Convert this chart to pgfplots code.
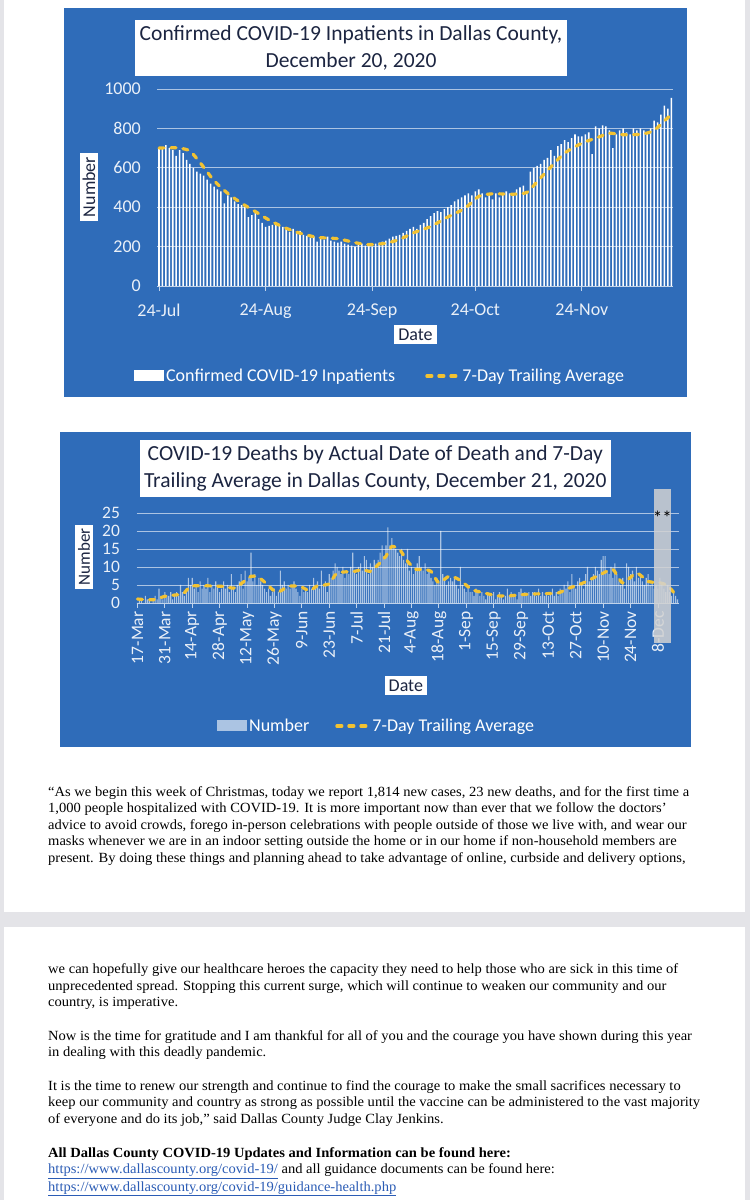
\documentclass[border=0pt]{standalone}
\usepackage{graphicx}
\usepackage{pgfplots}
\pgfplotsset{compat=1.18}
\usepackage{fontspec}
\setmainfont{Carlito}
\newfontfamily\bodyfont{Liberation Serif}

\definecolor{chartblue}{HTML}{2F6CB9}
\definecolor{avgyellow}{HTML}{F2C232}
\definecolor{titleink}{HTML}{1C2541}
\definecolor{ticklab}{HTML}{EAF0F8}
\definecolor{linkblue}{HTML}{2B5CB5}
\definecolor{pagegray}{HTML}{E4E4E8}

\newlength\lineone
\newcommand\bodysize{\fontsize{14}{16.6}\selectfont}

\pgfplotsset{
  covid/.style={
    scale only axis,
    axis x line*=bottom,
    axis y line*=left,
    y axis line style={draw=none},
    x axis line style={draw=white!70!chartblue, line width=0.8pt},
    ymajorgrids,
    grid style={draw=white!60!chartblue, line width=0.9pt},
    ytick style={draw=none},
    xtick style={draw=white!70!chartblue, line width=0.8pt},
    tick align=outside,
    major tick length=5pt,
    tick label style={font=\fontsize{18}{20}\selectfont, text=ticklab},
    yticklabel style={xshift=-8pt},
    /pgf/number format/assume math mode=true,
    /pgf/number format/1000 sep={},
    title style={fill=white, text=titleink, font=\fontsize{21.5}{27}\selectfont,
      align=center, anchor=center, yshift=-8pt, inner xsep=5pt, inner ysep=2pt},
    ylabel style={fill=white, text=titleink, font=\fontsize{18}{20}\selectfont,
      anchor=center, inner xsep=4pt, inner ysep=3pt},
    xlabel style={fill=white, text=titleink, font=\fontsize{18}{20}\selectfont,
      anchor=center, inner xsep=4pt, inner ysep=4pt},
    legend style={draw=none, fill=none, text=white, font=\fontsize{18}{20}\selectfont,
      legend columns=2, anchor=center,
      /tikz/every even column/.append style={column sep=28pt}},
    clip=false,
  },
  avgline/.style={avgyellow, line width=3.2pt, line cap=round,
    dash pattern=on 5pt off 7pt, smooth, tension=0.4,
    legend image code/.code={\draw[avgyellow, line width=3.2pt, line cap=round,
      dash pattern=on 5pt off 7pt] (0pt,0pt) -- (32pt,0pt);}},
  barlegend/.style={legend image code/.code={\fill[white] (0pt,-5pt) rectangle (30pt,6pt);}},
}

\begin{document}%
\settowidth\lineone{\bodyfont\bodysize “As we begin this week of Christmas, today we report 1,814 new cases, 23 new deaths, and for the first time a}%
\pgfmathsetmacro\sx{641/\lineone}%
\begin{tikzpicture}[x=1pt,y=1pt]
\path[use as bounding box] (0,0) rectangle (750,1200);
\fill[pagegray] (0,0) rectangle (750,1200);
\fill[white] (4,288) rectangle (745,1200);
\fill[white] (4,0) rectangle (745,273);

% top chart
\fill[chartblue] (64,803) rectangle (687,1192);
\begin{axis}[covid,
    at={(157.3pt,914pt)}, anchor=south west,
    width=515.7pt, height=197pt,
    xmin=-0.5, xmax=149.5, ymin=0, ymax=1000,
    ytick={0,200,...,1000},
    xtick={0,31,62,92,123},
    xticklabels={24-Jul,24-Aug,24-Sep,24-Oct,24-Nov},
    xticklabel style={yshift=-9pt},
    title={Confirmed COVID-19 Inpatients in Dallas County,\\December 20, 2020},
    title style={at={(axis description cs:0.3756,1.218)}, minimum height=56pt},
    ylabel={Number},
    ylabel style={at={(axis description cs:-0.1324,0.5025)}, minimum width=68pt},
    xlabel={Date},
    xlabel style={at={(axis description cs:0.5007,-0.246)}},
    legend style={at={(axis description cs:0.432,-0.457)}},
]
\addplot[ybar, bar width=0.45, bar shift=0pt, fill=white, draw=none, barlegend]
  table[row sep=\\, x expr=\coordindex, y index=0] {v\\
  700\\ 705\\ 715\\ 700\\ 690\\ 660\\ 690\\ 675\\ 640\\ 620\\
  600\\ 580\\ 570\\ 560\\ 540\\ 520\\ 505\\ 490\\ 480\\ 420\\
  460\\ 450\\ 430\\ 415\\ 410\\ 400\\ 350\\ 360\\ 375\\ 340\\
  320\\ 300\\ 305\\ 310\\ 320\\ 305\\ 300\\ 290\\ 275\\ 290\\
  270\\ 280\\ 260\\ 255\\ 245\\ 250\\ 225\\ 240\\ 235\\ 250\\
  230\\ 225\\ 220\\ 225\\ 215\\ 210\\ 205\\ 200\\ 210\\ 215\\
  205\\ 210\\ 200\\ 215\\ 220\\ 225\\ 230\\ 240\\ 250\\ 255\\
  260\\ 270\\ 280\\ 290\\ 300\\ 290\\ 310\\ 320\\ 340\\ 355\\
  370\\ 380\\ 375\\ 390\\ 400\\ 410\\ 430\\ 440\\ 450\\ 460\\
  470\\ 460\\ 480\\ 490\\ 470\\ 450\\ 460\\ 440\\ 470\\ 450\\
  470\\ 480\\ 470\\ 460\\ 490\\ 500\\ 510\\ 480\\ 580\\ 600\\
  610\\ 620\\ 640\\ 650\\ 690\\ 660\\ 710\\ 720\\ 740\\ 730\\
  750\\ 770\\ 760\\ 760\\ 770\\ 780\\ 670\\ 810\\ 800\\ 815\\
  810\\ 790\\ 700\\ 770\\ 790\\ 800\\ 780\\ 770\\ 800\\ 790\\
  800\\ 790\\ 780\\ 800\\ 840\\ 830\\ 870\\ 915\\ 900\\ 955\\
  };
\addlegendentry{Confirmed COVID-19 Inpatients}
\addplot[avgline] coordinates {
  (0,700) (3,702) (6,700) (9,685) (12,625) (16,535) (20,470) (24,420)
  (28,378) (32,335) (36,300) (41,268) (46,247) (52,240) (57,220) (61,210)
  (66,217) (70,237) (74,270) (79,302) (84,350) (89,395) (93,455) (97,468)
  (103,466) (107,475) (110,530) (114,605) (118,675) (123,725) (127,750)
  (131,775) (135,768) (140,770) (144,790) (149,872)
};
\addlegendentry{7-Day Trailing Average}
\end{axis}

% deaths chart
\fill[chartblue] (60,453) rectangle (691,768);
\begin{axis}[covid,
    at={(136.5pt,597pt)}, anchor=south west,
    width=542pt, height=90pt,
    xmin=-0.5, xmax=276.5, ymin=0, ymax=25,
    ytick={0,5,...,25},
    xtick={0,14,...,266},
    xticklabels={17-Mar,31-Mar,14-Apr,28-Apr,12-May,26-May,9-Jun,23-Jun,7-Jul,21-Jul,
      4-Aug,18-Aug,1-Sep,15-Sep,29-Sep,13-Oct,27-Oct,10-Nov,24-Nov,8-Dec},
    xticklabel style={rotate=90, anchor=east, font=\fontsize{17.5}{19}\selectfont},
    yticklabel style={font=\fontsize{17.5}{19}\selectfont},
    title={COVID-19 Deaths by Actual Date of Death and 7-Day\\Trailing Average in Dallas County, December 21, 2020},
    title style={at={(axis description cs:0.4406,1.517)}, minimum height=57pt, inner xsep=4pt},
    ylabel={Number},
    ylabel style={at={(axis description cs:-0.0969,0.511)}, font=\fontsize{17}{19}\selectfont,
      minimum width=64pt},
    xlabel={Date},
    xlabel style={at={(axis description cs:0.497,-0.917)}},
    legend style={at={(axis description cs:0.443,-1.367)},
      /tikz/every even column/.append style={column sep=24pt}},
]
\addplot[ybar, bar width=0.55, bar shift=0pt, fill=white, fill opacity=0.6, draw=none, barlegend]
  table[row sep=\\, x expr=\coordindex, y index=0] {v\\
  0\\ 1\\ 1\\ 0\\ 2\\ 1\\ 1\\ 0\\ 1\\
  2\\ 1\\ 4\\ 2\\ 1\\ 3\\ 2\\ 2\\ 3\\ 1\\ 2\\ 3\\
  2\\ 5\\ 3\\ 2\\ 4\\ 7\\ 5\\
  7\\ 4\\ 5\\ 3\\ 6\\ 4\\ 5\\ 4\\ 7\\ 3\\ 5\\ 4\\ 6\\ 5\\ 3\\ 4\\ 6\\ 4\\ 5\\ 3\\ 8\\ 4\\ 3\\
  5\\ 6\\ 8\\ 4\\ 9\\ 6\\ 7\\ 14\\ 6\\ 8\\ 5\\ 7\\ 6\\ 5\\ 4\\
  3\\ 4\\ 2\\ 3\\ 4\\ 2\\ 3\\ 9\\ 5\\ 6\\ 4\\ 5\\ 4\\
  5\\ 6\\ 4\\ 3\\ 2\\ 4\\ 3\\ 4\\ 3\\ 5\\ 4\\ 7\\ 5\\
  6\\ 4\\ 9\\ 5\\ 6\\ 3\\ 8\\ 7\\ 9\\ 11\\ 10\\
  9\\ 8\\ 10\\ 7\\ 9\\ 8\\ 10\\ 14\\ 9\\ 8\\ 10\\ 11\\ 9\\ 13\\ 12\\ 8\\ 11\\ 10\\ 12\\ 11\\
  12\\ 14\\ 16\\ 13\\ 16\\ 21\\ 16\\ 18\\ 16\\ 15\\ 14\\ 13\\ 15\\
  12\\ 11\\ 15\\ 9\\ 10\\ 8\\ 9\\ 11\\ 13\\ 10\\ 9\\ 11\\ 8\\ 9\\ 7\\
  6\\ 5\\ 7\\ 6\\ 20\\ 8\\ 7\\ 5\\ 6\\ 7\\
  6\\ 7\\ 5\\ 4\\ 10\\ 5\\ 4\\ 3\\ 5\\ 3\\
  3\\ 2\\ 4\\ 3\\ 2\\ 3\\ 2\\ 1\\ 3\\ 2\\ 2\\ 3\\ 1\\ 2\\ 3\\ 2\\ 1\\ 2\\ 4\\ 2\\
  3\\ 2\\ 2\\ 1\\ 3\\ 4\\ 2\\ 3\\ 2\\ 3\\ 2\\ 3\\ 3\\ 2\\ 4\\ 2\\ 3\\ 2\\ 3\\ 2\\ 3\\ 4\\ 2\\ 3\\ 2\\
  4\\ 3\\ 5\\ 4\\ 6\\ 3\\ 8\\ 5\\ 4\\ 6\\ 7\\ 5\\ 4\\ 8\\ 10\\
  6\\ 7\\ 8\\ 10\\ 9\\ 8\\ 12\\ 13\\ 13\\ 9\\ 8\\ 10\\ 7\\ 11\\ 8\\
  6\\ 5\\ 7\\ 4\\ 11\\ 10\\ 8\\ 9\\ 6\\ 10\\ 7\\ 8\\ 6\\ 5\\ 7\\ 8\\ 5\\
  6\\ 4\\ 5\\ 4\\ 7\\ 5\\ 4\\ 3\\ 5\\ 3\\ 2\\ 3\\ 2\\ 1\\
  };
\addlegendentry{Number}
\addplot[avgline] coordinates {
  (0,1.1) (8,0.9) (15,2.0) (23,2.5) (27,4.6) (33,4.8) (44,4.6) (50,4.2)
  (58,7.4) (63,6.7) (71,3.0) (77,4.6) (83,4.6) (88,3.4) (92,4.8) (98,5.3)
  (102,8.3) (111,8.8) (115,9.3) (119,8.8) (123,10.6) (127,13.0) (130,15.7)
  (134,14.8) (138,11.6) (142,9.4) (146,9.3) (150,8.8) (154,5.6) (159,7.4)
  (163,6.9) (167,5.4) (171,3.7) (177,2.8) (184,2.0) (190,2.0) (196,2.3)
  (202,2.5) (209,2.6) (215,2.8) (221,4.2) (227,5.4) (232,6.7) (238,8.3)
  (243,9.3) (248,5.6) (255,8.3) (261,6.0) (267,5.6) (271,4.8) (275,2.3)
};
\addlegendentry{7-Day Trailing Average}
\coordinate (shadeA) at (axis cs:263.9,-11.1);
\coordinate (shadeB) at (axis cs:272.6,31.7);
\coordinate (stars) at (axis cs:268.2,23.6);
\end{axis}
\fill[gray!35, opacity=0.85] (shadeA) rectangle (shadeB);
\node[font=\fontsize{19}{20}\selectfont, text=black, inner sep=0pt] at (stars) {**};

% statement text
\begin{scope}[every node/.style={anchor=base west, inner sep=0pt,
    font=\bodyfont\bodysize}]
\node at (48,403) {\scalebox{\sx}[1]{“As we begin this week of Christmas, today we report 1,814 new cases, 23 new deaths, and for the first time a}};
\node at (48,387) {\scalebox{\sx}[1]{1,000 people hospitalized with COVID-19. It is more important now than ever that we follow the doctors’}};
\node at (48,370) {\scalebox{\sx}[1]{advice to avoid crowds, forego in-person celebrations with people outside of those we live with, and wear our}};
\node at (48,354) {\scalebox{\sx}[1]{masks whenever we are in an indoor setting outside the home or in our home if non-household members are}};
\node at (48,337) {\scalebox{\sx}[1]{present. By doing these things and planning ahead to take advantage of online, curbside and delivery options,}};
\node at (48,226) {\scalebox{\sx}[1]{we can hopefully give our healthcare heroes the capacity they need to help those who are sick in this time of}};
\node at (48,209) {\scalebox{\sx}[1]{unprecedented spread. Stopping this current surge, which will continue to weaken our community and our}};
\node at (48,193) {\scalebox{\sx}[1]{country, is imperative.}};
\node at (48,159) {\scalebox{\sx}[1]{Now is the time for gratitude and I am thankful for all of you and the courage you have shown during this year}};
\node at (48,143) {\scalebox{\sx}[1]{in dealing with this deadly pandemic.}};
\node at (48,109) {\scalebox{\sx}[1]{It is the time to renew our strength and continue to find the courage to make the small sacrifices necessary to}};
\node at (48,93) {\scalebox{\sx}[1]{keep our community and country as strong as possible until the vaccine can be administered to the vast majority}};
\node at (48,76) {\scalebox{\sx}[1]{of everyone and do its job,” said Dallas County Judge Clay Jenkins.}};
\node at (48,42) {\scalebox{\sx}[1]{\bfseries All Dallas County COVID-19 Updates and Information can be found here:}};
\node at (48,26) {\scalebox{\sx}[1]{\textcolor{linkblue}{\underline{https://www.dallascounty.org/covid-19/}} and all guidance documents can be found here:}};
\node at (48,9) {\scalebox{\sx}[1]{\textcolor{linkblue}{\underline{https://www.dallascounty.org/covid-19/guidance-health.php}}}};
\end{scope}
\end{tikzpicture}
\end{document}
